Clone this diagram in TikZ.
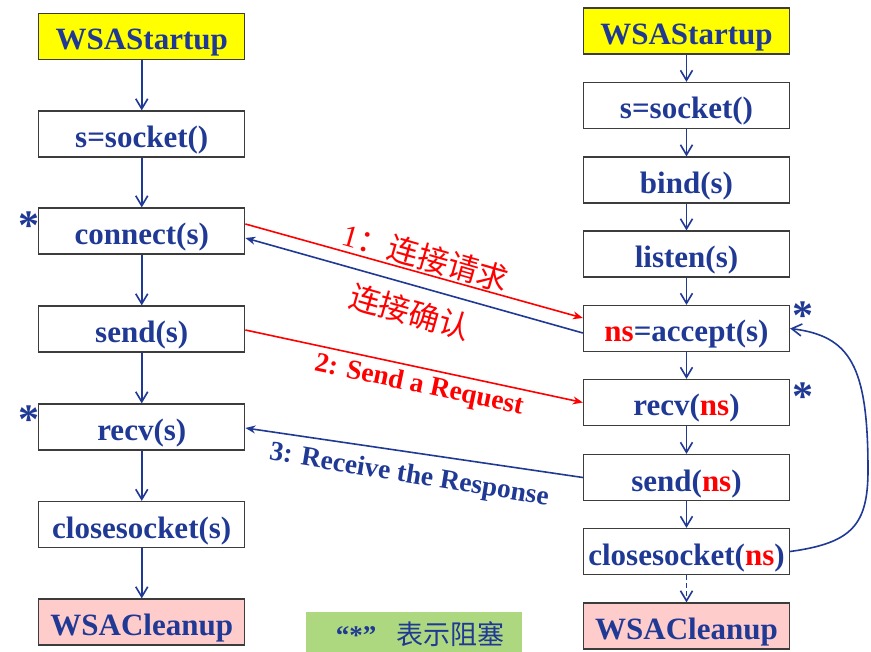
\documentclass[tikz,border=0pt]{standalone}
\usepackage{fontspec}
\setmainfont{Liberation Serif}
\newfontfamily\cjk{Noto Sans CJK SC}
\usetikzlibrary{arrows.meta}
\definecolor{dblue}{RGB}{31,57,148}
\definecolor{sred}{RGB}{255,0,0}
\definecolor{lyellow}{RGB}{255,255,0}
\definecolor{lpink}{RGB}{255,204,204}
\definecolor{lgreen}{RGB}{174,216,128}
\definecolor{boxline}{RGB}{60,60,60}
\newcommand{\nsr}{\textcolor{sred}{ns}}
\begin{document}
\begin{tikzpicture}[x=1pt,y=-1pt,
  fn/.style={draw=boxline, line width=1.3pt, minimum width=206pt, minimum height=46pt,
    inner sep=0pt, text height=35pt, text depth=8pt, text=dblue,
    font=\fontsize{31}{33}\selectfont\bfseries},
  startbox/.style={fn, fill=lyellow},
  endbox/.style={fn, fill=lpink},
  flow/.style={draw=dblue, line width=1.6pt, -{Straight Barb[length=10pt,width=12pt]}},
  msgred/.style={draw=sred, line width=1.6pt, -{Stealth[length=10pt,width=8pt]}},
  msgblue/.style={draw=dblue, line width=1.6pt, -{Stealth[length=10pt,width=8pt]}},
  star/.style={text=dblue, font=\fontsize{42}{42}\selectfont\bfseries, inner sep=0pt},
  lab/.style={inner sep=0pt, font=\fontsize{27.5}{29}\selectfont\bfseries},
  cjklab/.style={inner sep=0pt, text=sred, font=\fontsize{31}{33}\selectfont},
]
\useasboundingbox (0,0) rectangle (871,652);

% left column (client)
\node[startbox] (L1) at (141.75,36.5) {WSAStartup};
\node[fn] (L2) at (141.75,134) {s=socket()};
\node[fn] (L3) at (141.75,231) {connect(s)};
\node[fn] (L4) at (141.75,329) {send(s)};
\node[fn] (L5) at (141.75,427) {recv(s)};
\node[fn] (L6) at (141.75,524.5) {closesocket(s)};
\node[endbox] (L7) at (141.75,622) {WSACleanup};

% right column (server)
\node[startbox] (R1) at (686.5,31) {WSAStartup};
\node[fn] (R2) at (686.5,105.5) {s=socket()};
\node[fn] (R3) at (686.5,180) {bind(s)};
\node[fn] (R4) at (686.5,254) {listen(s)};
\node[fn] (R5) at (686.5,328.5) {\nsr=accept(s)};
\node[fn] (R6) at (686.5,402.5) {recv(\nsr)};
\node[fn] (R7) at (686.5,477.5) {send(\nsr)};
\node[fn] (R8) at (686.5,551.5) {closesocket(\nsr)};
\node[endbox] (R9) at (686.5,626) {WSACleanup};

% vertical flows
\draw[flow] (L1) -- (L2);
\draw[flow] (L2) -- (L3);
\draw[flow] (L3) -- (L4);
\draw[flow] (L4) -- (L5);
\draw[flow] (L5) -- (L6);
\draw[flow] (L6) -- (L7);
\draw[flow] (R1) -- (R2);
\draw[flow] (R2) -- (R3);
\draw[flow] (R3) -- (R4);
\draw[flow] (R4) -- (R5);
\draw[flow] (R5) -- (R6);
\draw[flow] (R6) -- (R7);
\draw[flow] (R7) -- (R8);
\draw[flow, dash pattern=on 5pt off 3pt] (R8) -- (R9);

% loop back
\draw[flow] (R8.east) .. controls (852,543) and (868,525) .. (868,470)
  .. controls (868,365) and (850,336) .. (R5.east);

% messages
\draw[msgred] ([yshift=7pt]L3.east) -- ([yshift=10.5pt]R5.west);
\draw[msgblue] ([yshift=-4.5pt]R5.west) -- ([yshift=-7pt]L3.east);
\draw[msgred] ([yshift=-1pt]L4.east) -- (R6.west);
\draw[msgblue] (R7.west) -- ([yshift=-1pt]L5.east);

% labels
\node[cjklab, rotate=-16] (m1) at (426,257) {{\rmfamily 1}\cjk ：连接请求};
\node[cjklab, rotate=-16] (m1b) at (410,312) {\cjk 连接确认};
\node[lab, text=sred, rotate=-11.8] (m2) at (419,386) {2: Send a Request};
\node[lab, text=dblue, rotate=-9.3] (m3) at (409,476) {3: Receive the Response};

% blocking stars
\node[star] (s1) at (29,226) {*};
\node[star] (s2) at (29,420) {*};
\node[star] (s3) at (803,316) {*};
\node[star] (s4) at (803,397) {*};

% legend
\fill[lgreen] (306,612) rectangle (522,653);
\node[inner sep=0pt, text=dblue, font=\fontsize{27}{29}\selectfont] (leg) at (420,634)
  {{\bfseries “*”}\hspace{20pt}{\cjk 表示阻塞}};
\end{tikzpicture}
\end{document}
